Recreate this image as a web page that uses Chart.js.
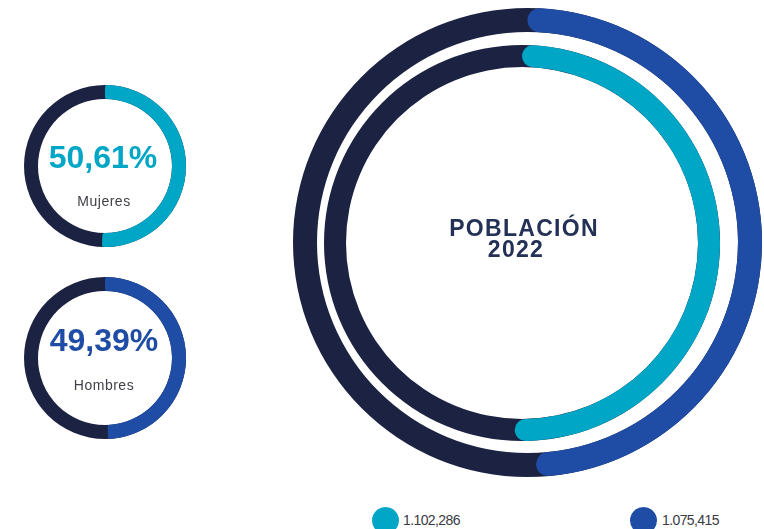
<!DOCTYPE html>
<html lang="es">
<head>
<meta charset="utf-8">
<title>Población 2022</title>
<script src="https://cdn.jsdelivr.net/npm/chart.js@4.4.0/dist/chart.umd.min.js"></script>
<style>
  html, body { margin: 0; padding: 0; background: #fff; }
  body { width: 764px; height: 529px; position: relative; overflow: hidden;
         font-family: "Liberation Sans", Arial, sans-serif; }
  canvas { position: absolute; }
  .txt { position: absolute; width: 200px; text-align: center; white-space: nowrap; }
  .titulo { font-weight: bold; font-size: 23px; line-height: 23px; letter-spacing: 1.3px; color: #243157; }
  .pct { font-weight: bold; font-size: 32px; line-height: 32px; }
  .sexo { font-size: 14px; line-height: 14px; letter-spacing: 0.5px; color: #404048; }
  .leyenda { position: absolute; font-size: 14px; line-height: 14px; letter-spacing: -0.6px;
             color: #3a3a44; white-space: nowrap; }
  .punto { position: absolute; width: 27px; height: 27px; border-radius: 50%; }
</style>
</head>
<body>

<canvas id="anilloHombres" width="469" height="469" style="left:293px;top:8px"></canvas>
<canvas id="anilloMujeres" width="396" height="396" style="left:324px;top:45px"></canvas>
<canvas id="donaMujeres" width="162" height="162" style="left:24px;top:85px"></canvas>
<canvas id="donaHombres" width="162" height="162" style="left:24px;top:277px"></canvas>

<div class="txt titulo" style="left:424px;top:217px">POBLACIÓN</div>
<div class="txt titulo" style="left:416px;top:238px">2022</div>

<div class="txt pct" id="pctMujeres" style="left:3px;top:141px"></div>
<div class="txt sexo" id="lblMujeres" style="left:4px;top:194px"></div>
<div class="txt pct" id="pctHombres" style="left:4px;top:324px"></div>
<div class="txt sexo" id="lblHombres" style="left:4px;top:378px"></div>

<div class="punto" id="puntoMujeres" style="left:372px;top:507px"></div>
<div class="leyenda" id="cifraMujeres" style="left:403px;top:513px"></div>
<div class="punto" id="puntoHombres" style="left:630px;top:507px"></div>
<div class="leyenda" id="cifraHombres" style="left:662px;top:513px"></div>

<script>
// datos: población 2022 por sexo
const categorias = ['Mujeres', 'Hombres'];
const poblacion = [1102286, 1075415];
const porcentajes = [50.61, 49.39];
const colores = ['#00a6c6', '#1f4da6'];
const colorPista = '#1c2242';

// 1102286 -> "1.102,286"
function formatoCifra(n) {
  const s = String(n);
  return s.slice(0, -6) + '.' + s.slice(-6, -3) + ',' + s.slice(-3);
}

function formatoPct(p) {
  return p.toFixed(2).replace('.', ',') + '%';
}

// dibuja el anillo oscuro de fondo debajo del arco de color
const pista = {
  id: 'pista',
  beforeDatasetsDraw(chart, args, opts) {
    const arco = chart.getDatasetMeta(0).data[0];
    if (!arco) return;
    const p = arco.getProps(['x', 'y', 'innerRadius', 'outerRadius'], true);
    const ctx = chart.ctx;
    ctx.save();
    ctx.beginPath();
    ctx.arc(p.x, p.y, p.outerRadius, 0, Math.PI * 2);
    ctx.arc(p.x, p.y, p.innerRadius, 0, Math.PI * 2, true);
    ctx.fillStyle = opts.color;
    ctx.fill();
    ctx.restore();
  }
};

function anillo(id, valores, color, grosor, redondeo) {
  const canvas = document.getElementById(id);
  const radio = canvas.width / 2;
  return new Chart(canvas, {
    type: 'doughnut',
    data: {
      labels: ['valor', 'resto'],
      datasets: [{
        data: valores,
        backgroundColor: [color, 'rgba(0,0,0,0)'],
        borderWidth: 0,
        borderRadius: (c) => c.dataIndex === 0 ? redondeo : 0
      }]
    },
    options: {
      responsive: false,
      animation: false,
      events: [],
      cutout: radio - grosor,
      plugins: {
        legend: { display: false },
        tooltip: { enabled: false },
        pista: { color: colorPista }
      }
    },
    plugins: [pista]
  });
}

// anillos grandes: exterior hombres, interior mujeres
anillo('anilloHombres', [poblacion[1], poblacion[0]], colores[1], 24, 12);
anillo('anilloMujeres', [poblacion[0], poblacion[1]], colores[0], 22, 11);

// anillos pequeños con porcentaje
anillo('donaMujeres', [porcentajes[0], porcentajes[1]], colores[0], 14, 2);
anillo('donaHombres', [porcentajes[1], porcentajes[0]], colores[1], 14, 2);

// textos
document.getElementById('pctMujeres').textContent = formatoPct(porcentajes[0]);
document.getElementById('pctMujeres').style.color = colores[0];
document.getElementById('lblMujeres').textContent = categorias[0];
document.getElementById('pctHombres').textContent = formatoPct(porcentajes[1]);
document.getElementById('pctHombres').style.color = colores[1];
document.getElementById('lblHombres').textContent = categorias[1];

// leyenda inferior
document.getElementById('puntoMujeres').style.background = colores[0];
document.getElementById('cifraMujeres').textContent = formatoCifra(poblacion[0]);
document.getElementById('puntoHombres').style.background = colores[1];
document.getElementById('cifraHombres').textContent = formatoCifra(poblacion[1]);
</script>
</body>
</html>
